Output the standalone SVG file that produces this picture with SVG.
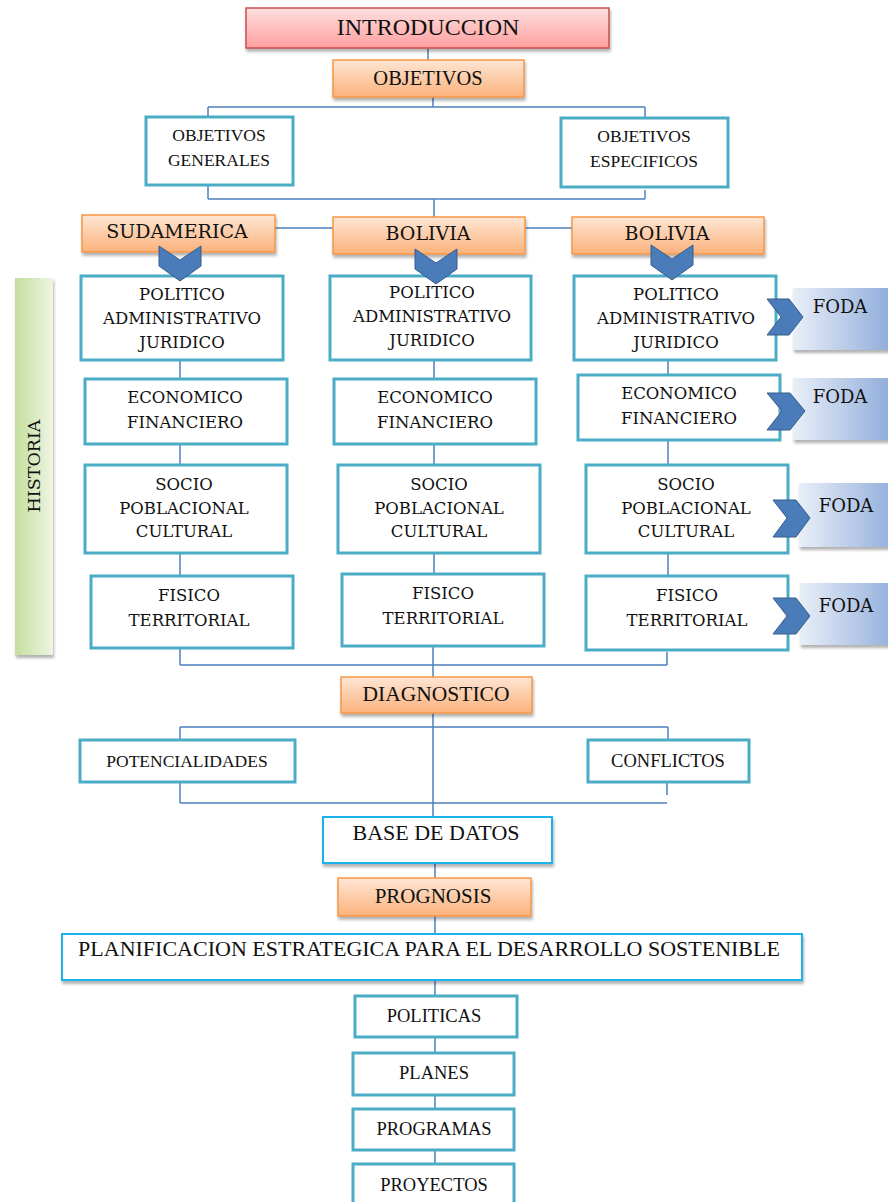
<svg xmlns="http://www.w3.org/2000/svg" width="888" height="1202" viewBox="0 0 888 1202">
<defs>
<linearGradient id="gPink" x1="0" y1="0" x2="0" y2="1"><stop offset="0" stop-color="#ffe0e0"/><stop offset="1" stop-color="#ff9e9e"/></linearGradient>
<linearGradient id="gOrange" x1="0" y1="0" x2="0" y2="1"><stop offset="0" stop-color="#fee6d4"/><stop offset="1" stop-color="#fbb27c"/></linearGradient>
<linearGradient id="gBlue" x1="0" y1="0" x2="1" y2="0"><stop offset="0" stop-color="#e9eff8"/><stop offset="1" stop-color="#8eabda"/></linearGradient>
<linearGradient id="gGreen" x1="0" y1="0" x2="1" y2="0"><stop offset="0" stop-color="#c4de9e"/><stop offset="1" stop-color="#eef5e3"/></linearGradient>
<filter id="sh" x="-10%" y="-10%" width="125%" height="140%"><feDropShadow dx="1" dy="3" stdDeviation="1.5" flood-color="#000" flood-opacity="0.3"/></filter>
</defs>
<style>
.pink{fill:url(#gPink);stroke:#c9504d;stroke-width:1.5}
.org{fill:url(#gOrange);stroke:#f79646;stroke-width:1.5}
.teal{fill:#fff;stroke:#4bacc6;stroke-width:3}
.cyan{fill:#fff;stroke:#1fb2ee;stroke-width:2}
.foda{fill:url(#gBlue)}
.hist{fill:url(#gGreen)}
.chev{fill:#4a7cba;stroke:#385d8a;stroke-width:1}
.con{fill:none;stroke:#4f81bd;stroke-width:1.5}
text{fill:#111;text-anchor:middle}
.t{font-family:"Liberation Serif","Times New Roman",serif}
.s{font-family:"DejaVu Serif",serif}
.b16{font-family:"DejaVu Serif",serif;font-size:16.5px}
</style>

<g id="connectors">
<path class="con" d="M428,48V60 M433,97V107 M208,107H645 M208,107V117 M645,107V118"/>
<path class="con" d="M208,185V199 M208,199H645 M645,190V199 M434,199V217"/>
<path class="con" d="M275,228H333 M525,228H572"/>
<path class="con" d="M180,359V379 M180,444V465 M180,553V576"/>
<path class="con" d="M434,359V379 M434,444V465 M434,553V574"/>
<path class="con" d="M668,359V375 M668,439V465 M668,553V576"/>
<path class="con" d="M180,648V665 M180,665H667 M667,652V665 M433,646V677"/>
<path class="con" d="M433,713V817 M180,727H668 M180,727V740 M668,727V740 M180,782V803 M180,803H667 M667,782V795"/>
<path class="con" d="M435,863V878 M435,916V934 M435,980V996 M435,1037V1053 M435,1095V1109 M435,1150V1164"/>
</g>

<g id="introduccion"><rect class="pink" x="246" y="8" width="363" height="40" filter="url(#sh)"/><text class="t" x="428" y="35" font-size="24">INTRODUCCION</text></g>
<g id="objetivos"><rect class="org" x="333" y="60" width="191" height="37" filter="url(#sh)"/><text class="t" x="428" y="85" font-size="20.5">OBJETIVOS</text></g>
<g id="obj-generales"><rect class="teal" x="146" y="117" width="147" height="68"/><text class="t" x="219" y="141" font-size="17.5">OBJETIVOS</text><text class="t" x="219" y="166" font-size="17.5">GENERALES</text></g>
<g id="obj-especificos"><rect class="teal" x="561" y="118" width="167" height="69"/><text class="t" x="644" y="142" font-size="17.5">OBJETIVOS</text><text class="t" x="644" y="167" font-size="17.5">ESPECIFICOS</text></g>

<g id="sudamerica"><rect class="org" x="82" y="215" width="193" height="37" filter="url(#sh)"/><text class="s" x="177" y="238" font-size="19">SUDAMERICA</text></g>
<g id="bolivia1"><rect class="org" x="333" y="217" width="192" height="37" filter="url(#sh)"/><text class="s" x="428" y="240" font-size="19">BOLIVIA</text></g>
<g id="bolivia2"><rect class="org" x="572" y="217" width="192" height="37" filter="url(#sh)"/><text class="s" x="667" y="240" font-size="19">BOLIVIA</text></g>

<g id="historia"><rect class="hist" x="15" y="278" width="38" height="377" filter="url(#sh)"/><text class="s" transform="translate(40,466) rotate(-90)" font-size="17.5">HISTORIA</text></g>

<g id="c1-politico"><rect class="teal" x="81" y="276" width="202" height="84"/><text class="b16" x="182" y="300">POLITICO</text><text class="b16" x="182" y="324">ADMINISTRATIVO</text><text class="b16" x="182" y="348">JURIDICO</text></g>
<g id="c1-economico"><rect class="teal" x="85" y="379" width="202" height="65"/><text class="b16" x="185" y="403">ECONOMICO</text><text class="b16" x="185" y="428">FINANCIERO</text></g>
<g id="c1-socio"><rect class="teal" x="85" y="465" width="202" height="88"/><text class="b16" x="184" y="490">SOCIO</text><text class="b16" x="184" y="514">POBLACIONAL</text><text class="b16" x="184" y="537">CULTURAL</text></g>
<g id="c1-fisico"><rect class="teal" x="91" y="576" width="202" height="72"/><text class="b16" x="189" y="601">FISICO</text><text class="b16" x="189" y="626">TERRITORIAL</text></g>

<g id="c2-politico"><rect class="teal" x="330" y="276" width="201" height="84"/><text class="b16" x="432" y="298">POLITICO</text><text class="b16" x="432" y="322">ADMINISTRATIVO</text><text class="b16" x="432" y="346">JURIDICO</text></g>
<g id="c2-economico"><rect class="teal" x="334" y="379" width="202" height="65"/><text class="b16" x="435" y="403">ECONOMICO</text><text class="b16" x="435" y="428">FINANCIERO</text></g>
<g id="c2-socio"><rect class="teal" x="338" y="465" width="202" height="88"/><text class="b16" x="439" y="490">SOCIO</text><text class="b16" x="439" y="514">POBLACIONAL</text><text class="b16" x="439" y="537">CULTURAL</text></g>
<g id="c2-fisico"><rect class="teal" x="342" y="574" width="202" height="72"/><text class="b16" x="443" y="599">FISICO</text><text class="b16" x="443" y="624">TERRITORIAL</text></g>

<g id="c3-politico"><rect class="teal" x="574" y="276" width="202" height="84"/><text class="b16" x="676" y="300">POLITICO</text><text class="b16" x="676" y="324">ADMINISTRATIVO</text><text class="b16" x="676" y="348">JURIDICO</text></g>
<g id="c3-economico"><rect class="teal" x="578" y="375" width="202" height="65"/><text class="b16" x="679" y="399">ECONOMICO</text><text class="b16" x="679" y="424">FINANCIERO</text></g>
<g id="c3-socio"><rect class="teal" x="586" y="465" width="202" height="88"/><text class="b16" x="686" y="490">SOCIO</text><text class="b16" x="686" y="514">POBLACIONAL</text><text class="b16" x="686" y="537">CULTURAL</text></g>
<g id="c3-fisico"><rect class="teal" x="586" y="576" width="202" height="74"/><text class="b16" x="687" y="601">FISICO</text><text class="b16" x="687" y="626">TERRITORIAL</text></g>

<g id="foda1"><rect class="foda" x="793" y="288" width="100" height="62" filter="url(#sh)"/><text class="s" x="840" y="313" font-size="18">FODA</text></g>
<g id="foda2"><rect class="foda" x="793" y="378" width="100" height="62" filter="url(#sh)"/><text class="s" x="840" y="403" font-size="18">FODA</text></g>
<g id="foda3"><rect class="foda" x="799" y="483" width="100" height="64" filter="url(#sh)"/><text class="s" x="846" y="512" font-size="18">FODA</text></g>
<g id="foda4"><rect class="foda" x="800" y="583" width="100" height="62" filter="url(#sh)"/><text class="s" x="846" y="612" font-size="18">FODA</text></g>

<g id="chevrons">
<polygon class="chev" points="159,246 180,260 201,246 201,266 180,281 159,266"/>
<polygon class="chev" points="415,249 436,263 457,249 457,269 436,284 415,269"/>
<polygon class="chev" points="651,245 672,259 693,245 693,265 672,280 651,265"/>
<polygon class="chev" points="767,299 789,299 803,317 789,335 767,335 781,317"/>
<polygon class="chev" points="767,393 790,393 805,411 790,430 767,430 782,411"/>
<polygon class="chev" points="773,500 796,500 810,518 796,537 773,537 787,518"/>
<polygon class="chev" points="773,598 796,598 810,616 796,634 773,634 787,616"/>
</g>

<g id="diagnostico"><rect class="org" x="341" y="677" width="191" height="36" filter="url(#sh)"/><text class="t" x="436" y="701" font-size="21.5">DIAGNOSTICO</text></g>
<g id="potencialidades"><rect class="teal" x="80" y="740" width="215" height="42"/><text class="t" x="187" y="767" font-size="17.5">POTENCIALIDADES</text></g>
<g id="conflictos"><rect class="teal" x="588" y="740" width="161" height="42"/><text class="t" x="668" y="767" font-size="18.5">CONFLICTOS</text></g>
<g id="base-datos"><rect class="cyan" x="323" y="817" width="229" height="46" filter="url(#sh)"/><text class="t" x="436" y="840" font-size="22">BASE DE DATOS</text></g>
<g id="prognosis"><rect class="org" x="338" y="878" width="193" height="38" filter="url(#sh)"/><text class="t" x="433" y="903" font-size="21">PROGNOSIS</text></g>
<g id="planificacion"><rect class="cyan" x="62" y="934" width="740" height="46" filter="url(#sh)"/><text class="t" x="429" y="956" font-size="22">PLANIFICACION ESTRATEGICA PARA EL DESARROLLO SOSTENIBLE</text></g>
<g id="politicas"><rect class="teal" x="355" y="996" width="162" height="41"/><text class="t" x="434" y="1022" font-size="18.5">POLITICAS</text></g>
<g id="planes"><rect class="teal" x="353" y="1053" width="161" height="42"/><text class="t" x="434" y="1079" font-size="18.5">PLANES</text></g>
<g id="programas"><rect class="teal" x="353" y="1109" width="161" height="41"/><text class="t" x="434" y="1135" font-size="18.5">PROGRAMAS</text></g>
<g id="proyectos"><rect class="teal" x="353" y="1164" width="161" height="42"/><text class="t" x="434" y="1191" font-size="18.5">PROYECTOS</text></g>
</svg>
